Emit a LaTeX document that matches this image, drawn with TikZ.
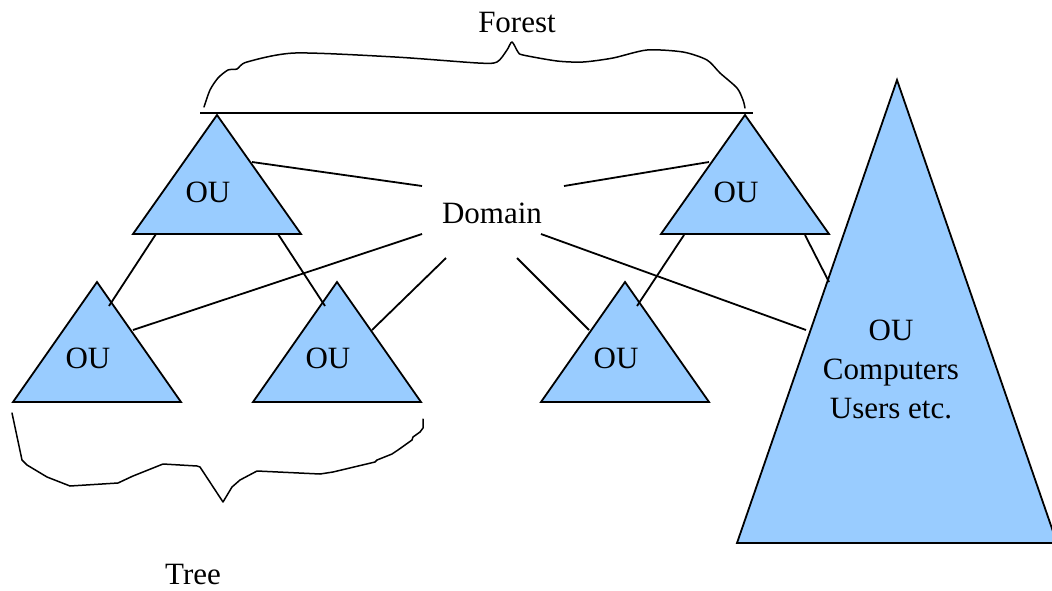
\documentclass[tikz,border=0pt]{standalone}
\usepackage{fontspec}
\setmainfont{Liberation Serif}
\begin{document}
\begin{tikzpicture}[x=1pt,y=-1pt,
  ou/.style={fill=oublue,draw=black,line width=1.8pt,line join=miter},
  link/.style={draw=black,line width=1.8pt},
  brace/.style={draw=black,line width=1.5pt,line join=round,line cap=round},
  lbl/.style={inner sep=0pt,font=\fontsize{31}{39}\selectfont}]
\definecolor{oublue}{RGB}{153,204,255}
\clip (0,0) rectangle (1052,590);
% triangles
\path[ou] (217,115) -- (301,234) -- (133,234) -- cycle;
\path[ou] (97,282) -- (181,402) -- (13,402) -- cycle;
\path[ou] (337,282) -- (421,402) -- (253,402) -- cycle;
\path[ou] (745,115) -- (829,234) -- (661,234) -- cycle;
\path[ou] (625,282) -- (709,402) -- (541,402) -- cycle;
\path[ou] (897,80) -- (1057,543) -- (737,543) -- cycle;
% labels
\node[lbl] (ou1) at (208,192) {OU};
\node[lbl] (ou2) at (88,358) {OU};
\node[lbl] (ou3) at (328,358) {OU};
\node[lbl] (ou4) at (736,192) {OU};
\node[lbl] (ou5) at (616,358) {OU};
\node[lbl,align=center] (ou6) at (891,369) {OU\\Computers\\Users etc.\hspace{0.35em}};
\node[lbl] (domain) at (492,213) {Domain};
\node[lbl] (forest) at (517,22) {Forest};
\node[lbl] (tree) at (193,574) {Tree};
% connector end points
\coordinate (dA) at (422,186);
\coordinate (dB) at (564,186);
\coordinate (dC) at (422,234);
\coordinate (dD) at (541,234);
\coordinate (dE) at (446,258);
\coordinate (dF) at (517,258);
\coordinate (t1r) at (252,162);
\coordinate (t1a) at (156,234);
\coordinate (t1b) at (278,234);
\coordinate (t2a) at (109,306);
\coordinate (t2b) at (133,330);
\coordinate (t3a) at (325,306);
\coordinate (t3b) at (372,330);
\coordinate (t4l) at (709,162);
\coordinate (t4a) at (684,235);
\coordinate (t4b) at (805,235);
\coordinate (t5a) at (637,306);
\coordinate (t5b) at (589,330);
\coordinate (t6a) at (829,282);
\coordinate (t6b) at (806,330);
\coordinate (fl) at (200,113);
\coordinate (fr) at (753,113);
% connectors
\draw[link] (t1r) -- (dA);
\draw[link] (t1a) -- (t2a);
\draw[link] (t1b) -- (t3a);
\draw[link] (dC) -- (t2b);
\draw[link] (dE) -- (t3b);
\draw[link] (dB) -- (t4l);
\draw[link] (t4a) -- (t5a);
\draw[link] (t4b) -- (t6a);
\draw[link] (dD) -- (t6b);
\draw[link] (dF) -- (t5b);
\draw[link] (fl) -- (fr);
% braces
\draw[brace] plot[smooth,tension=0.45] coordinates {(204,107) (210,90) (218,78) (228,70) (237,69) (247,62) (295,53) (395,57) (478,63) (497,62) (507,50) (512,42) (518,52) (523,55) (557,61) (583,62) (613,58) (647,50) (683,52) (707,60) (720,73) (737,88) (743,100) (745,108)};
\draw[brace] (12,413) -- (22,460) -- (27,465) -- (47,477) -- (70,486) -- (118,483) -- (133,476) -- (163,464) -- (197,466) -- (200,467) -- (223,502) -- (232,487) -- (240,480) -- (257,471) -- (320,474) -- (333,472) -- (375,462) -- (377,460) -- (392,454) -- (398,450) -- (412,440) -- (413,437) -- (420,432) -- (423,428) -- (423,419);
\end{tikzpicture}
\end{document}
